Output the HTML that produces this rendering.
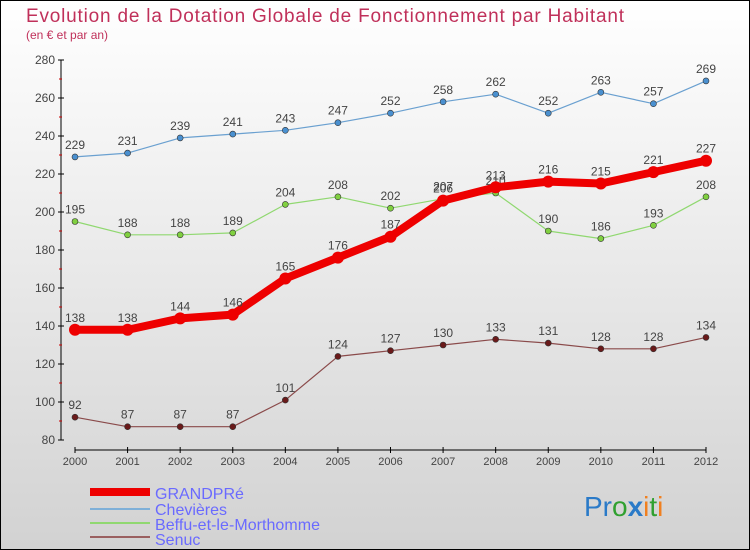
<!DOCTYPE html>
<html><head><meta charset="utf-8"><style>
body{margin:0}
#c{position:relative;width:750px;height:550px;overflow:hidden}
svg text{font-family:"Liberation Sans",sans-serif}
</style></head><body>
<div id="c">
<svg id="s" width="750" height="550" xmlns="http://www.w3.org/2000/svg">
<defs><linearGradient id="bg" x1="0" y1="0" x2="0" y2="1"><stop offset="0" stop-color="#ffffff"/><stop offset="1" stop-color="#d2d2d2"/></linearGradient></defs>
<rect x="0.5" y="0.5" width="749" height="549" fill="url(#bg)" stroke="#000"/>
<text x="26" y="22" font-size="19" fill="#c0305a" textLength="598">Evolution de la Dotation Globale de Fonctionnement par Habitant</text>
<text x="26" y="39" font-size="12" fill="#c0305a">(en € et par an)</text>
<g id="axes"></g><g id="series"></g>
<g>
<rect x="90" y="488" width="60" height="8" fill="#e00"/>
<text x="155" y="499" font-size="16" fill="#6a6aff">GRANDPRé</text>
<rect x="90" y="508" width="60" height="2" fill="#7fb0d8"/>
<text x="155" y="515" font-size="16" fill="#6a6aff">Chevières</text>
<rect x="90" y="522" width="60" height="2" fill="#90d870"/>
<text x="155" y="530" font-size="16" fill="#6a6aff" textLength="165">Beffu-et-le-Morthomme</text>
<rect x="90" y="536" width="60" height="2" fill="#9a6060"/>
<text x="155" y="545" font-size="16" fill="#6a6aff">Senuc</text>
</g>
<text x="584" y="516" font-size="28"><tspan fill="#2a7ac8">Pr</tspan><tspan fill="#30a030">o</tspan><tspan fill="#2a7ac8" font-weight="bold">x</tspan><tspan fill="#f08020">i</tspan><tspan fill="#30a030">t</tspan><tspan fill="#f08020">i</tspan></text>
</svg></div>
<script>
const years=[2000,2001,2002,2003,2004,2005,2006,2007,2008,2009,2010,2011,2012];
const yTicks=[80,100,120,140,160,180,200,220,240,260,280];
const grandpre=[138,138,144,146,165,176,187,206,213,216,215,221,227];
const chevieres=[229,231,239,241,243,247,252,258,262,252,263,257,269];
const beffu=[195,188,188,189,204,208,202,207,210,190,186,193,208];
const senuc=[92,87,87,87,101,124,127,130,133,131,128,128,134];
const NS="http://www.w3.org/2000/svg";
const xs=i=>75+i*(706-75)/(years.length-1);
const ys=v=>440-(v-80)*1.9;
function mk(t,a,p){const e=document.createElementNS(NS,t);for(const k in a)e.setAttribute(k,a[k]);p.appendChild(e);return e;}
const ax=document.getElementById('axes');
let l=mk('line',{x1:61,y1:ys(280),x2:61,y2:ys(80),stroke:'#000'},ax);


yTicks.forEach((v,i)=>{
 mk('line',{x1:58,x2:64,y1:ys(v),y2:ys(v),stroke:'#000'},ax);
 if(i<yTicks.length-1)mk('line',{x1:59,x2:62,y1:ys(v+10),y2:ys(v+10),stroke:'#c00'},ax);
 const t=mk('text',{x:55,y:ys(v)+4,'font-size':12,fill:'#444','text-anchor':'end'},ax);t.textContent=v;
 
 
});
l=mk('line',{x1:75,y1:450,x2:706,y2:450,stroke:'#000'},ax);


years.forEach((y,i)=>{
 mk('line',{x1:xs(i),x2:xs(i),y1:447,y2:453,stroke:'#000'},ax);
 const t=mk('text',{x:xs(i),y:465,'font-size':11,fill:'#444','text-anchor':'middle'},ax);t.textContent=y;
 
 
});
const sg=document.getElementById('series');
function draw(arr,name,col,w,r,dot){
 const g=mk('g',{},sg);
 
 
 mk('polyline',{points:arr.map((v,i)=>xs(i)+','+ys(v)).join(' '),fill:'none',stroke:col,'stroke-width':w,'stroke-linejoin':'round'},g);
 arr.forEach((v,i)=>{
  const c=mk('circle',{cx:xs(i),cy:ys(v),r:r,fill:dot,stroke:'#333','stroke-width':w>3?0:0.6},g);
  
  
  const t=mk('text',{x:xs(i),y:ys(v)-8,'font-size':12,fill:'#444','text-anchor':'middle'},g);t.textContent=v;
  
  
 });
}
draw(senuc,'senuc','#8a4a4a',1.2,3,'#6a1a1a');
draw(beffu,'beffu','#90d870',1.2,3,'#80d040');
draw(chevieres,'chevieres','#6aa0d0',1.2,3,'#4a90d0');
draw(grandpre,'grandpre','#ee0000',8,6,'#ee0000');
</script>
</body></html>
